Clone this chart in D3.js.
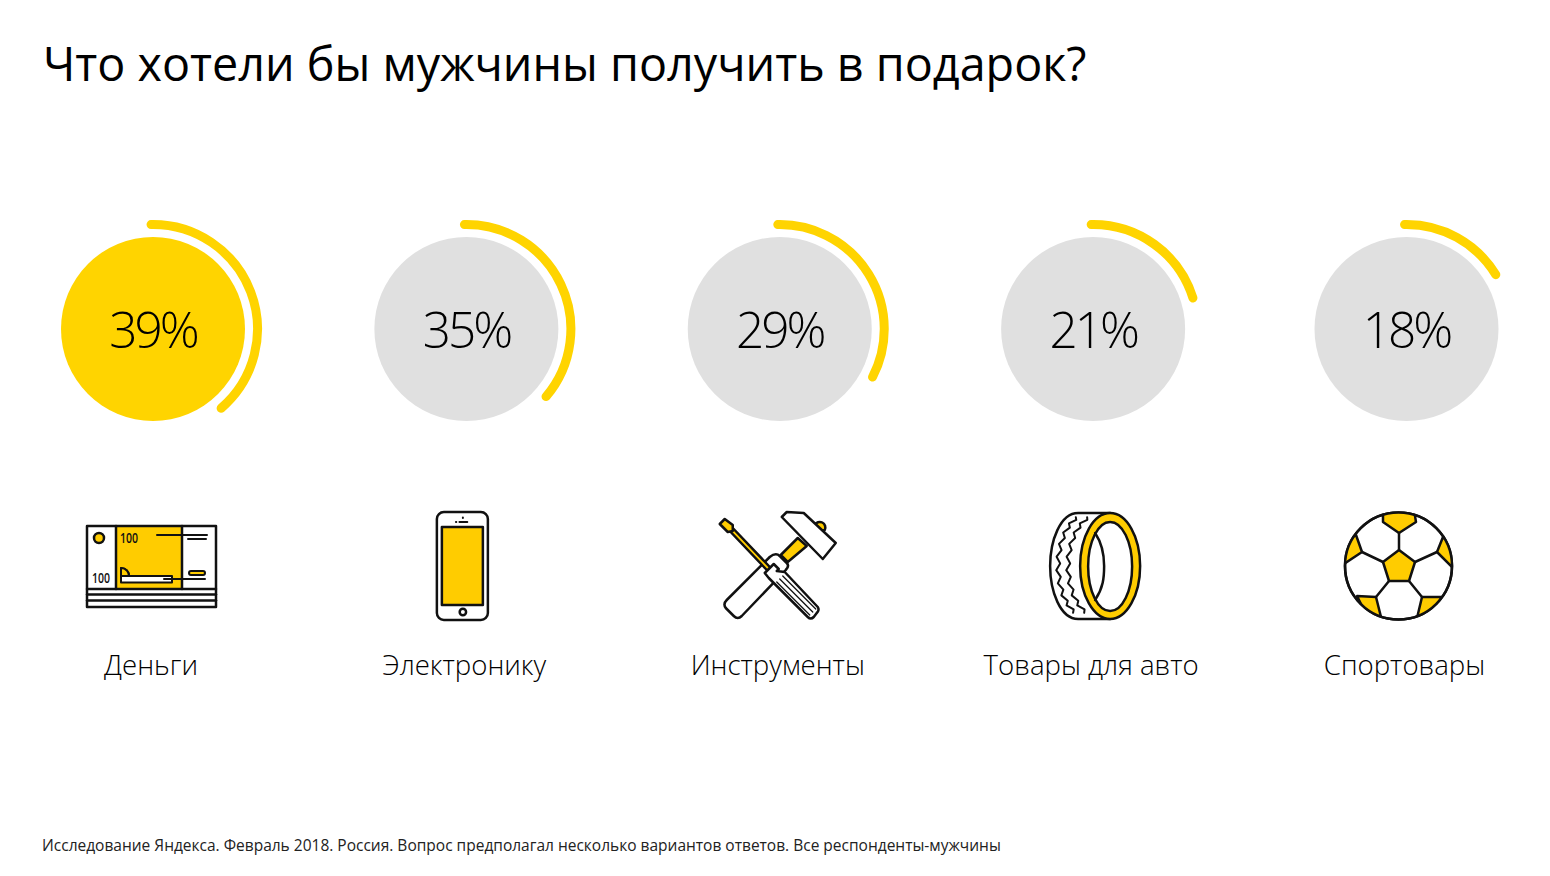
<!DOCTYPE html>
<html>
<head>
<meta charset="utf-8">
<script src="https://d3js.org/d3.v7.min.js"></script>
<style>
    body { margin: 0; background: #fff; }
    text { font-family: "Open Sans", sans-serif; fill: #000; }
</style>
</head>
<body>
<div id="canvas"></div>
<script>
const titleText = "Что хотели бы мужчины получить в подарок?";
const footText = "Исследование Яндекса. Февраль 2018. Россия. Вопрос предполагал несколько вариантов ответов. Все респонденты-мужчины";
const categories = ["Деньги", "Электронику", "Инструменты", "Товары для авто", "Спортовары"];
const values = [39, 35, 29, 21, 18];
// the rings in the picture don't follow the labels exactly, so read separately
const ringValues = [38.7, 36.2, 32.6, 20.2, 16.3];

const width = 1550;
const height = 876;
const yellow = "#ffd400";
const iconYellow = "#ffcc00";
const ink = "#111";

const svg = d3.select("#canvas").append("svg")
    .attr("width", width)
    .attr("height", height)
    .style("display", "block");

svg.append("text").attr("x", 43).attr("y", 81)
    .style("font-size", "46.7px")
    .text(titleText);

svg.append("text").attr("x", 42).attr("y", 851)
    .style("font-size", "15.5px")
    .style("fill", "#222")
    .text(footText);

// columns
const x = d3.scalePoint().domain(categories).range([153, 1406.5]);
const angle = d3.scaleLinear().domain([0, 100]).range([0, 2 * Math.PI]);
const ring = d3.arc().innerRadius(104.5).outerRadius(104.5).startAngle(angle(-0.3));

const col = svg.selectAll("g.col")
    .data(categories)
    .join("g")
    .attr("class", "col")
    .attr("transform", d => `translate(${x(d)},0)`);

col.append("circle")
    .attr("cy", 329)
    .attr("r", 92)
    .style("fill", (d, i) => i === 0 ? yellow : "#e0e0e0");

col.append("path")
    .attr("transform", "translate(0,329)")
    // d3.arc goes out and back on a zero-width arc, keep just the way out
    .attr("d", (d, i) => ring({ endAngle: angle(ringValues[i]) }).match(/^M[^A]*A[^AZL]*/)[0])
    .style("fill", "none")
    .style("stroke", yellow)
    .style("stroke-width", 9)
    .style("stroke-linecap", "round");

col.append("text")
    .attr("y", 348)
    .attr("text-anchor", "middle")
    .style("font-size", "49.5px")
    .style("font-weight", 300)
    .style("letter-spacing", "-3px")
    .text((d, i) => values[i] + "%");

col.append("text")
    .attr("x", -2)
    .attr("y", 675)
    .attr("text-anchor", "middle")
    .style("font-size", "27.6px")
    .style("font-weight", 300)
    .text(d => d);

// icons, each drawn in its own px space around the column centre
const icons = [drawMoney, drawPhone, drawTools, drawTire, drawBall];
col.append("g")
    .attr("class", "icon")
    .style("fill", "none")
    .style("stroke", ink)
    .style("stroke-width", 2.5)
    .style("stroke-linejoin", "round")
    .style("stroke-linecap", "round")
    .each(function (d, i) { icons[i](d3.select(this)); });

function poly(g, pts, fill) {
    return g.append("path")
        .attr("d", d3.line()(pts) + "Z")
        .style("fill", fill || "none");
}

function seg(g, x1, y1, x2, y2, w) {
    return g.append("line")
        .attr("x1", x1).attr("y1", y1).attr("x2", x2).attr("y2", y2)
        .style("stroke-width", w || 2.5);
}

function smallLabel(g, tx, ty) {
    g.append("text").attr("x", tx).attr("y", ty)
        .style("font-size", "14px")
        .style("font-weight", 600)
        .style("stroke", "none")
        .style("fill", ink)
        .attr("textLength", 18)
        .attr("lengthAdjust", "spacingAndGlyphs")
        .text("100");
}

function drawMoney(g) {
    g.append("rect").attr("x", -37).attr("y", 526).attr("width", 66).attr("height", 63)
        .style("fill", iconYellow).style("stroke", "none");
    g.append("rect").attr("x", -66).attr("y", 526).attr("width", 129).attr("height", 81);
    seg(g, -66, 589, 63, 589);
    seg(g, -66, 594.5, 63, 594.5);
    seg(g, -66, 600.5, 63, 600.5);
    seg(g, -37, 526, -37, 589);
    seg(g, 29, 526, 29, 589);
    g.append("circle").attr("cx", -54).attr("cy", 538).attr("r", 5).style("fill", iconYellow);
    smallLabel(g, -33, 543);
    smallLabel(g, -61, 583);
    seg(g, 4, 535, 54, 535, 2);
    seg(g, 35, 539, 53, 539, 2);
    g.append("rect").attr("x", 36).attr("y", 571).attr("width", 16).attr("height", 4).attr("rx", 2)
        .style("fill", iconYellow).style("stroke-width", 2);
    g.append("path")
        .attr("d", "M-32,568 C-27,568 -24,572 -24,576 L19,576 L19,582.5 L-32,582.5 Z")
        .style("fill", "#fff").style("stroke-width", 2);
    g.append("path").attr("d", "M-32,568 C-27,568 -24,572 -24,576 L-32,576 Z")
        .style("fill", iconYellow).style("stroke-width", 2);
    seg(g, 11, 579, 52, 579, 2);
}

function drawPhone(g) {
    g.append("rect").attr("x", -29.5).attr("y", 512).attr("width", 51).attr("height", 108).attr("rx", 7)
        .style("fill", "#fff");
    g.append("rect").attr("x", -24.5).attr("y", 527).attr("width", 41).attr("height", 78)
        .style("fill", iconYellow);
    g.append("circle").attr("cx", -3.5).attr("cy", 612).attr("r", 3.2);
    seg(g, -7, 522, 1, 522, 1.8);
    seg(g, -10.5, 522, -10, 522, 1.8);
    seg(g, -3.5, 517.5, -3.5, 518, 2);
}

function drawTools(g) {
    // hammer: head, yellow neck, white handle
    g.append("path").attr("d", "M35,525 A5,5 0 0 1 45,530 L38,532 Z").style("fill", iconYellow);
    poly(g, [[18, 538], [27, 546], [8, 562], [1, 555]], iconYellow);
    g.append("path")
        .attr("d", "M2,517 L7,512 L24,513 L56,543 L43,559 Z")
        .style("fill", "#fff");
    g.append("path")
        .attr("d", "M-10,557 Q-4,552 0,556 L7,563 Q10,566 6,570 L-38,616 Q-42,620 -46,616 L-54,608 Q-57,604 -53,600 Z")
        .style("fill", "#fff");
    // screwdriver: shaft, blade, striped grip
    poly(g, [[-50, 531], [-47, 528], [-9, 568], [-12, 571]], iconYellow);
    poly(g, [[-60, 524], [-55, 519], [-47, 525], [-47, 531], [-52, 532]], iconYellow);
    g.append("path")
        .attr("d", "M-15,573 L-6,564 L-1,569 L-3,571 L5,572 L38,607 Q40,610 37,613 L34,617 Q31,620 28,617 L-7,582 L-9,580 L-11,578 Z")
        .style("fill", "#fff");
    seg(g, 0, 579, 33, 612, 1.3);
    seg(g, 3, 576, 36, 609, 1.3);
    seg(g, -3, 582, 30, 615, 1.3);
}

function zigzag(x0, rx, step, amp) {
    // teeth running along the left side of the tyre
    const pts = [];
    let n = 0;
    for (let a = -1.22; a <= 1.22; a += step) {
        const off = n % 2 ? amp : -amp;
        pts.push([-(x0 + rx * Math.cos(a)) + off, 52 * Math.sin(a)]);
        n++;
    }
    return d3.line()(pts);
}

function drawTire(g) {
    const inner = g.append("g").attr("transform", "translate(17,566)");
    inner.append("path")
        .attr("d", "M0,-53 L-32,-53 C-50,-53 -60,-25 -60,0 C-60,25 -50,53 -32,53 L0,53")
        .style("fill", "#fff");
    inner.append("path").attr("d", zigzag(22, 30, 0.13, 2)).style("stroke-width", 2);
    inner.append("path").attr("d", zigzag(10, 32, 0.13, 2)).style("stroke-width", 2);
    g.append("ellipse").attr("cx", 17).attr("cy", 566).attr("rx", 30).attr("ry", 53)
        .style("fill", iconYellow);
    g.append("ellipse").attr("cx", 17).attr("cy", 566.5).attr("rx", 22).attr("ry", 44.5)
        .style("fill", "#fff");
    g.append("path").attr("d", "M2,533 C10,545 11,556 11,566 C11,578 10,588 2,600");
}

function drawBall(g) {
    const cx = -8;
    const p = (px, py) => [px - 1406.5, py];
    const clipId = "ball-clip";
    g.append("clipPath").attr("id", clipId)
        .append("circle").attr("cx", cx).attr("cy", 566).attr("r", 53.5);
    g.append("circle").attr("cx", cx).attr("cy", 566).attr("r", 53.5).style("fill", "#fff");
    const c = g.append("g").attr("clip-path", `url(#${clipId})`);
    poly(c, [p(1383, 510), p(1383, 522), p(1399, 533), p(1416, 522), p(1414, 510)], iconYellow);
    poly(c, [p(1356, 535), p(1362, 552), p(1344, 564), p(1340, 545)], iconYellow);
    poly(c, [p(1443, 537), p(1437, 552), p(1453, 568), p(1458, 550)], iconYellow);
    poly(c, [p(1357, 596), p(1376, 597), p(1381, 617), p(1365, 612)], iconYellow);
    poly(c, [p(1422, 597), p(1442, 597), p(1432, 612), p(1417, 618)], iconYellow);
    poly(g, [p(1399, 550), p(1415, 562), p(1409, 581), p(1389, 581), p(1383, 562)], iconYellow);
    [[1399, 533, 1399, 550], [1362, 552, 1383, 562], [1415, 562, 1437, 552],
     [1389, 581, 1376, 597], [1409, 581, 1422, 597]].forEach(s => {
        seg(c, s[0] - 1406.5, s[1], s[2] - 1406.5, s[3]);
    });
    g.append("circle").attr("cx", cx).attr("cy", 566).attr("r", 53.5);
}
</script>
</body>
</html>
